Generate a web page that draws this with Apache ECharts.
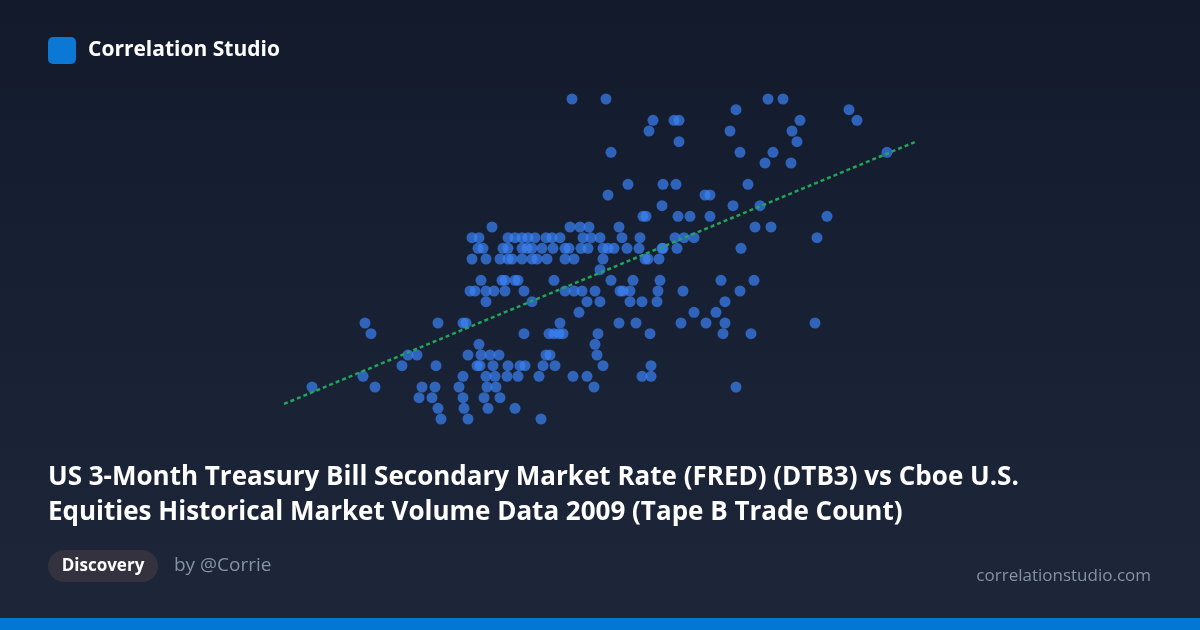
<!DOCTYPE html>
<html>
<head>
<meta charset="utf-8">
<script src="https://cdn.jsdelivr.net/npm/echarts@6/dist/echarts.min.js"></script>
<style>
html,body{margin:0;padding:0;width:1200px;height:630px;overflow:hidden;background:#151c2e;}
#chart{width:1200px;height:630px;}
</style>
</head>
<body>
<div id="chart"></div>
<script>
// Rows of the scatter: trade-count level (0..30) with the x positions (rate, arbitrary units) of points on that level
const yLevels = [0,1,2,3,4,5,6,7,8,9,10,11,12,13,14,15,16,17,18,19,20,21,22,24,25,26,27,28,29,30];
const xByLevel = [
  [441,468,541],
  [438,464,488,515],
  [419,432,463,484,500],
  [312,375,422,435,459,487,496,594,736],
  [363,463,486,495,507,518,539,573,587,642,651],
  [402,436,477,480,493,508,520,525,543,555,603,651],
  [408,417,468,481,490,499,546,550,597],
  [479,595],
  [371,524,549,554,559,563,598,650,723,751],
  [365,438,463,466,560,619,636,681,706,725,815],
  [579,694,716],
  [486,532,587,600,630,642,657,725],
  [470,475,486,494,505,524,565,574,582,595,620,623,630,658,683,740],
  [481,502,505,515,518,554,611,633,660,721,754],
  [600],
  [472,486,500,508,512,522,532,537,547,565,574,603,645,648,659],
  [478,483,503,508,522,527,532,542,553,565,569,581,588,603,608,614,627,639,662,663,677,741],
  [472,479,508,515,522,528,535,546,552,560,583,591,600,622,640,675,684,694,817],
  [492,570,580,589,619,755,771],
  [643,646,678,690,710,827],
  [662,733,760],
  [608,705,710],
  [628,663,676,748],
  [765,791],
  [611,740,773,887],
  [679,797],
  [649,730,792],
  [653,674,679,800,857],
  [736,849],
  [572,606,768,783]
];
// Trend line end points (x, y)
const trendX = [284, 915];
const trendY = [1.41, 25.97];

const titleLines = [
  'US 3-Month Treasury Bill Secondary Market Rate (FRED) (DTB3) vs Cboe U.S.',
  'Equities Historical Market Volume Data 2009 (Tape B Trade Count)'
];
const brand = 'Correlation Studio';
const tag = 'Discovery';
const author = 'by @Corrie';
const site = 'correlationstudio.com';

const points = [];
yLevels.forEach((lv, i) => xByLevel[i].forEach(x => points.push([x, lv])));
const trend = trendX.map((x, i) => [x, trendY[i]]);

const FONT = '"Open Sans", "Noto Sans", sans-serif';
const chart = echarts.init(document.getElementById('chart'), null, {renderer: 'canvas'});
chart.setOption({
  backgroundColor: new echarts.graphic.LinearGradient(0, 0, 0, 1, [
    {offset: 0, color: '#121a2c'},
    {offset: 1, color: '#1e273a'}
  ]),
  animation: false,
  grid: {left: 284, right: 285, top: 99, bottom: 211},
  xAxis: {type: 'value', min: 284, max: 915, show: false},
  yAxis: {type: 'value', min: 0, max: 30, show: false},
  series: [
    {
      type: 'line',
      data: trend,
      symbol: 'none',
      lineStyle: {color: '#22a559', width: 2.5, type: [4, 3]},
      z: 3
    },
    {
      type: 'scatter',
      data: points,
      symbolSize: 11,
      itemStyle: {color: 'rgba(59,130,246,0.88)'},
      z: 2
    }
  ],
  graphic: [
    {type: 'rect', shape: {x: 48, y: 37, width: 28, height: 27, r: 5}, style: {fill: '#0a78d4'}},
    {type: 'text', x: 88, y: 50, style: {text: brand, fill: '#ffffff', font: 'bold 21px ' + FONT, textVerticalAlign: 'middle'}},
    {type: 'text', x: 48, y: 478, style: {text: titleLines[0], fill: '#ffffff', font: 'bold 26px ' + FONT, textVerticalAlign: 'middle'}},
    {type: 'text', x: 48, y: 513, style: {text: titleLines[1], fill: '#ffffff', font: 'bold 26px ' + FONT, textVerticalAlign: 'middle'}},
    {type: 'rect', shape: {x: 48, y: 550, width: 110, height: 32, r: 16}, style: {fill: '#35323f'}},
    {type: 'text', x: 103, y: 566, style: {text: tag, fill: '#ffffff', font: 'bold 17px ' + FONT, textAlign: 'center', textVerticalAlign: 'middle'}},
    {type: 'text', x: 174, y: 566, style: {text: author, fill: '#8491a6', font: '19px ' + FONT, textVerticalAlign: 'middle'}},
    {type: 'text', x: 1151, y: 576, style: {text: site, fill: '#8491a6', font: '17px ' + FONT, textAlign: 'right', textVerticalAlign: 'middle'}},
    {type: 'rect', shape: {x: 0, y: 618, width: 1200, height: 12}, style: {fill: '#0078d4'}}
  ]
});
</script>
</body>
</html>
